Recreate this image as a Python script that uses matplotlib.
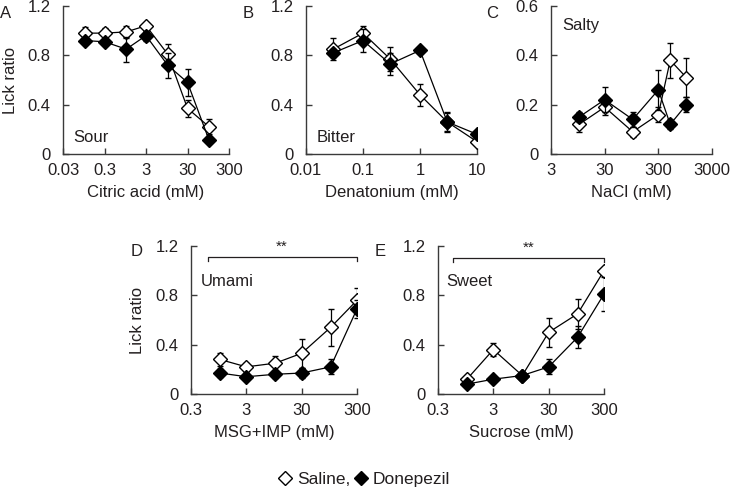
import matplotlib.pyplot as plt
from matplotlib.lines import Line2D
from matplotlib.ticker import FixedLocator, NullLocator

plt.rcParams["font.family"] = ["Liberation Sans", "DejaVu Sans"]
plt.rcParams["font.size"] = 12
ink = "#231f20"

# panel data: concentrations (mM), mean lick ratio and error
sour_x = [0.1, 0.3, 1, 3, 10, 30, 100]
sour_sal = [0.98, 0.98, 0.99, 1.04, 0.81, 0.37, 0.22]
sour_sal_err = [0.05, 0.04, 0.05, 0.02, 0.08, 0.07, 0.06]
sour_don = [0.92, 0.91, 0.85, 0.96, 0.72, 0.58, 0.11]
sour_don_err = [0.03, 0.03, 0.10, 0.04, 0.10, 0.11, 0.02]

bitter_x = [0.03, 0.1, 0.3, 1, 3, 10]
bitter_sal = [0.85, 0.98, 0.77, 0.48, 0.26, 0.10]
bitter_sal_err = [0.09, 0.06, 0.10, 0.09, 0.08, 0.02]
bitter_don = [0.82, 0.92, 0.73, 0.84, 0.26, 0.16]
bitter_don_err = [0.03, 0.09, 0.09, 0.02, 0.07, 0.02]

salty_x = [10, 30, 100, 300, 500, 1000]
salty_sal = [0.12, 0.19, 0.09, 0.16, 0.38, 0.31]
salty_sal_err = [0.03, 0.03, 0.02, 0.03, 0.07, 0.08]
salty_don = [0.15, 0.22, 0.14, 0.26, 0.12, 0.20]
salty_don_err = [0.02, 0.05, 0.03, 0.08, 0.02, 0.03]

umami_x = [1, 3, 10, 30, 100, 300]
umami_sal = [0.28, 0.22, 0.25, 0.33, 0.54, 0.76]
umami_sal_err = [0.05, 0.03, 0.06, 0.12, 0.15, 0.10]
umami_don = [0.17, 0.14, 0.16, 0.17, 0.22, 0.69]
umami_don_err = [0.03, 0.03, 0.03, 0.04, 0.06, 0.07]

sweet_x = [1, 3, 10, 30, 100, 300]
sweet_sal = [0.12, 0.36, 0.15, 0.50, 0.65, 1.00]
sweet_sal_err = [0.02, 0.05, 0.02, 0.12, 0.12, 0.02]
sweet_don = [0.08, 0.12, 0.15, 0.22, 0.46, 0.81]
sweet_don_err = [0.02, 0.02, 0.02, 0.06, 0.09, 0.14]

W, H = 731, 488
fig = plt.figure(figsize=(W / 100, H / 100), dpi=100)


def make_ax(l, r, t, b):
    return fig.add_axes([l / W, 1 - b / H, (r - l) / W, (b - t) / H])


panels = [
    # letter, box, x, sal, sal_err, don, don_err, xticks, xlabels, ymax, yticks, xlabel, taste, taste pos
    ("A", (63, 229, 6, 154), sour_x, sour_sal, sour_sal_err, sour_don, sour_don_err,
     [0.03, 0.3, 3, 30, 300], ["0.03", "0.3", "3", "30", "300"], 1.2, [0, 0.4, 0.8, 1.2],
     "Citric acid (mM)", "Sour", (0.06, 0.11)),
    ("B", (306, 477, 6, 154), bitter_x, bitter_sal, bitter_sal_err, bitter_don, bitter_don_err,
     [0.01, 0.1, 1, 10], ["0.01", "0.1", "1", "10"], 1.2, [0, 0.4, 0.8, 1.2],
     "Denatonium (mM)", "Bitter", (0.065, 0.11)),
    ("C", (551, 712, 6, 154), salty_x, salty_sal, salty_sal_err, salty_don, salty_don_err,
     [3, 30, 300, 3000], ["3", "30", "300", "3000"], 0.6, [0, 0.2, 0.4, 0.6],
     "NaCl (mM)", "Salty", (0.07, 0.87)),
    ("D", (191, 357, 246, 394), umami_x, umami_sal, umami_sal_err, umami_don, umami_don_err,
     [0.3, 3, 30, 300], ["0.3", "3", "30", "300"], 1.2, [0, 0.4, 0.8, 1.2],
     "MSG+IMP (mM)", "Umami", (0.06, 0.76)),
    ("E", (438, 604, 246, 394), sweet_x, sweet_sal, sweet_sal_err, sweet_don, sweet_don_err,
     [0.3, 3, 30, 300], ["0.3", "3", "30", "300"], 1.2, [0, 0.4, 0.8, 1.2],
     "Sucrose (mM)", "Sweet", (0.05, 0.76)),
]

axes = {}
for (letter, box, x, sal, sal_e, don, don_e, xt, xtl, ymax, yt,
     xlab, taste, tpos) in panels:
    ax = make_ax(*box)
    axes[letter] = ax
    ax.set_xscale("log")
    ax.errorbar(x, sal, yerr=sal_e, fmt="-D", color="black", lw=0.9,
                ms=6.8, mfc="white", mec="black", mew=1.0,
                elinewidth=0.9, capsize=2.5, capthick=0.9, zorder=3)
    ax.errorbar(x, don, yerr=don_e, fmt="-D", color="black", lw=0.9,
                ms=6.8, mfc="black", mec="black", mew=1.0,
                elinewidth=0.9, capsize=2.5, capthick=0.9, zorder=4)
    ax.set_xlim(xt[0], xt[-1])
    ax.set_ylim(0, ymax)
    ax.xaxis.set_major_locator(FixedLocator(xt))
    ax.xaxis.set_minor_locator(NullLocator())
    ax.set_xticklabels(xtl)
    ax.set_yticks(yt)
    ax.set_yticklabels([f"{v:g}" for v in yt])
    for s in ["top", "right"]:
        ax.spines[s].set_visible(False)
    for s in ["left", "bottom"]:
        ax.spines[s].set_linewidth(1.0)
        ax.spines[s].set_color("#3a3a3a")
    ax.tick_params(direction="in", length=4, width=1.0, color="#3a3a3a",
                   labelcolor=ink, labelsize=12)
    ax.tick_params(axis="x", pad=6.5)
    ax.tick_params(axis="y", pad=9)
    ax.set_xlabel(xlab, color=ink, fontsize=12, labelpad=5)
    ax.text(tpos[0], tpos[1], taste, transform=ax.transAxes, color=ink,
            fontsize=12, va="center", ha="left")

# panel letters and y labels at fixed figure positions
for letter, (px, py) in {"A": (6, 13), "B": (248, 13), "C": (492, 13),
                         "D": (137, 252), "E": (380, 252)}.items():
    fig.text(px / W, 1 - py / H, letter, color=ink, fontsize=12,
             ha="center", va="center")

for cx, cy in ((11, 80), (137, 320)):
    fig.text(cx / W, 1 - cy / H, "Lick ratio", rotation=90, color=ink,
             fontsize=12, ha="center", va="center")

# significance brackets
for letter, x0, y_line in (("D", 0.6, 1.11), ("E", 0.55, 1.10)):
    ax = axes[letter]
    ax.plot([x0, x0, 300, 300], [y_line - 0.03, y_line, y_line, y_line - 0.03],
            color=ink, lw=0.9, clip_on=False)
    ax.text(13, y_line + 0.03, "**", ha="center", va="bottom", color=ink,
            fontsize=11)

handles = [
    Line2D([], [], marker="D", ls="none", ms=7.5, mfc="white", mec="black", mew=1.0),
    Line2D([], [], marker="D", ls="none", ms=7.5, mfc="black", mec="black", mew=1.0),
]
fig.legend(handles, ["Saline,", "Donepezil"], loc="center",
           bbox_to_anchor=(364 / W, 1 - 479 / H), ncol=2, frameon=False,
           handlelength=0.8, handletextpad=0.3, columnspacing=0.2,
           fontsize=12.5, labelcolor=ink)

fig.savefig("out.png", dpi=100)
